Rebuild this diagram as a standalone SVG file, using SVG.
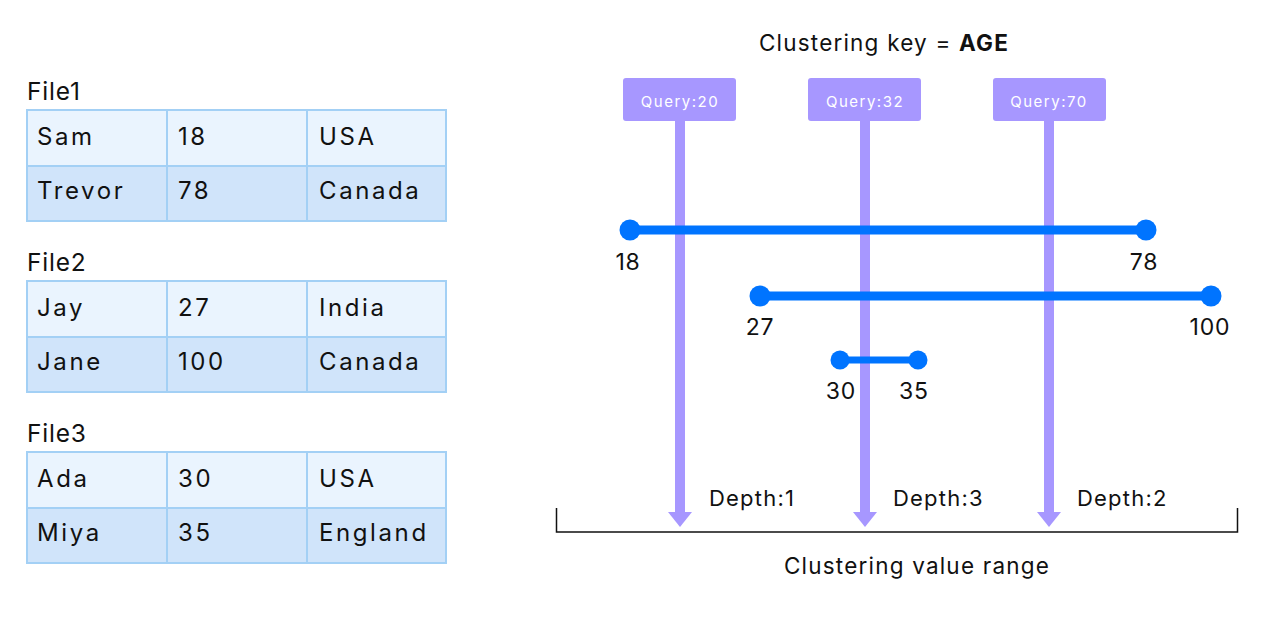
<svg xmlns="http://www.w3.org/2000/svg" width="1280" height="621" viewBox="0 0 1280 621">
<style>
text{font-family:Inter,"Noto Sans","Liberation Sans",sans-serif;fill:#111}
.cell{font-size:24px;letter-spacing:2.6px}
.lbl{font-size:24.5px;letter-spacing:0.8px}
.r1{fill:#EAF4FE;stroke:#A3D0F5;stroke-width:2}
.r2{fill:#D0E4FA;stroke:#A3D0F5;stroke-width:2}
.q{fill:#A797FF}
.qt{font-size:15px;fill:#fff;letter-spacing:1.5px;text-anchor:middle}
.shaft{fill:#A797FF}
.rng{stroke:#0074FF;stroke-linecap:round}
.dot{fill:#0074FF}
.num{font-size:23px;text-anchor:middle;letter-spacing:0.8px}
.dep{font-size:22px;letter-spacing:1.2px}
</style>
<g id="file1">
<text class="lbl" x="27" y="100">File1</text>
<rect class="r1" x="27" y="110" width="140" height="56"/><rect class="r1" x="167" y="110" width="140" height="56"/><rect class="r1" x="307" y="110" width="139" height="56"/>
<rect class="r2" x="27" y="166" width="140" height="55"/><rect class="r2" x="167" y="166" width="140" height="55"/><rect class="r2" x="307" y="166" width="139" height="55"/>
<text class="cell" x="37" y="145">Sam</text><text class="cell" x="178" y="145">18</text><text class="cell" x="319" y="145">USA</text>
<text class="cell" x="37" y="199">Trevor</text><text class="cell" x="178" y="199">78</text><text class="cell" x="319" y="199">Canada</text>
</g>
<g id="file2">
<text class="lbl" x="27" y="271">File2</text>
<rect class="r1" x="27" y="281" width="140" height="56"/><rect class="r1" x="167" y="281" width="140" height="56"/><rect class="r1" x="307" y="281" width="139" height="56"/>
<rect class="r2" x="27" y="337" width="140" height="55"/><rect class="r2" x="167" y="337" width="140" height="55"/><rect class="r2" x="307" y="337" width="139" height="55"/>
<text class="cell" x="37" y="316">Jay</text><text class="cell" x="178" y="316">27</text><text class="cell" x="319" y="316">India</text>
<text class="cell" x="37" y="370">Jane</text><text class="cell" x="178" y="370">100</text><text class="cell" x="319" y="370">Canada</text>
</g>
<g id="file3">
<text class="lbl" x="27" y="442">File3</text>
<rect class="r1" x="27" y="452" width="140" height="56"/><rect class="r1" x="167" y="452" width="140" height="56"/><rect class="r1" x="307" y="452" width="139" height="56"/>
<rect class="r2" x="27" y="508" width="140" height="55"/><rect class="r2" x="167" y="508" width="140" height="55"/><rect class="r2" x="307" y="508" width="139" height="55"/>
<text class="cell" x="37" y="487">Ada</text><text class="cell" x="178" y="487">30</text><text class="cell" x="319" y="487">USA</text>
<text class="cell" x="37" y="541">Miya</text><text class="cell" x="178" y="541">35</text><text class="cell" x="319" y="541">England</text>
</g>
<g id="title">
<text x="884" y="51" font-size="22.5" text-anchor="middle" letter-spacing="1.2">Clustering key = <tspan font-weight="bold">AGE</tspan></text>
</g>
<g id="connectors">
<rect class="shaft" x="675" y="121" width="10" height="392"/><polygon class="shaft" points="668,512 692,512 680,527"/>
<rect class="shaft" x="860" y="121" width="10" height="392"/><polygon class="shaft" points="853,512 877,512 865,527"/>
<rect class="shaft" x="1044" y="121" width="10" height="392"/><polygon class="shaft" points="1037,512 1061,512 1049,527"/>
</g>
<g id="query20"><rect class="q" x="623" y="78" width="113" height="43" rx="3"/><text class="qt" x="680" y="107">Query:20</text></g>
<g id="query32"><rect class="q" x="808" y="78" width="113" height="43" rx="3"/><text class="qt" x="865" y="107">Query:32</text></g>
<g id="query70"><rect class="q" x="993" y="78" width="113" height="43" rx="3"/><text class="qt" x="1049" y="107">Query:70</text></g>
<g id="range1">
<line class="rng" x1="630" y1="230" x2="1146" y2="230" stroke-width="9"/>
<circle class="dot" cx="630" cy="230" r="10.5"/><circle class="dot" cx="1146" cy="230" r="10.5"/>
<text class="num" x="628" y="270">18</text><text class="num" x="1144" y="270">78</text>
</g>
<g id="range2">
<line class="rng" x1="760" y1="296" x2="1211" y2="296" stroke-width="9"/>
<circle class="dot" cx="760" cy="296" r="10.5"/><circle class="dot" cx="1211" cy="296" r="10.5"/>
<text class="num" x="760" y="335">27</text><text class="num" x="1210" y="335">100</text>
</g>
<g id="range3">
<line class="rng" x1="840" y1="360" x2="918" y2="360" stroke-width="7"/>
<circle class="dot" cx="840" cy="360" r="9.5"/><circle class="dot" cx="918" cy="360" r="9.5"/>
<text class="num" x="841" y="399">30</text><text class="num" x="914" y="399">35</text>
</g>
<g id="axis">
<path d="M556.5,508 V532 H1237.5 V508" fill="none" stroke="#111" stroke-width="1.5"/>
<text class="dep" x="709" y="506">Depth:1</text>
<text class="dep" x="893" y="506">Depth:3</text>
<text class="dep" x="1077" y="506">Depth:2</text>
<text x="917" y="574" font-size="22.5" text-anchor="middle" letter-spacing="1.2">Clustering value range</text>
</g>
</svg>
